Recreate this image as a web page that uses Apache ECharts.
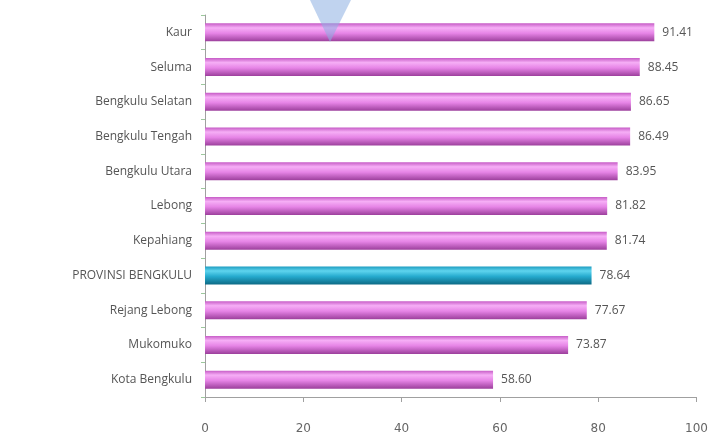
<!DOCTYPE html>
<html>
<head>
<meta charset="utf-8">
<script src="https://cdn.jsdelivr.net/npm/echarts@6/dist/echarts.min.js"></script>
<style>
html, body { margin: 0; padding: 0; background: #fff; }
#chart { width: 711px; height: 437px; }
</style>
</head>
<body>
<div id="chart"></div>
<script>
var regions = ['Kaur', 'Seluma', 'Bengkulu Selatan', 'Bengkulu Tengah', 'Bengkulu Utara',
    'Lebong', 'Kepahiang', 'PROVINSI BENGKULU', 'Rejang Lebong', 'Mukomuko', 'Kota Bengkulu'];
var values = [91.41, 88.45, 86.65, 86.49, 83.95, 81.82, 81.74, 78.64, 77.67, 73.87, 58.60];
var xTicks = [0, 20, 40, 60, 80, 100];

var pinkFill = new echarts.graphic.LinearGradient(0, 0, 0, 1, [
    { offset: 0, color: '#c65cc6' },
    { offset: 0.25, color: '#f6aef6' },
    { offset: 0.55, color: '#e684e6' },
    { offset: 1, color: '#9c3f9c' }
]);
var blueFill = new echarts.graphic.LinearGradient(0, 0, 0, 1, [
    { offset: 0, color: '#1d9cc0' },
    { offset: 0.25, color: '#5fd4ee' },
    { offset: 0.55, color: '#26abcf' },
    { offset: 1, color: '#0d6a85' }
]);

var chart = echarts.init(document.getElementById('chart'));
var option = {
    animation: false,
    grid: { left: 205, right: 11, top: 15, bottom: 40 },
    xAxis: {
        type: 'value',
        min: 0,
        max: 100,
        interval: 20,
        axisLine: { show: true, lineStyle: { color: '#a0a0a0' } },
        axisTick: { show: true, length: 5, lineStyle: { color: '#a0a0a0' } },
        splitLine: { show: false },
        axisLabel: {
            color: '#666',
            fontSize: 12,
            fontFamily: 'DejaVu Sans',
            margin: 26,
            formatter: function (v) { return xTicks.indexOf(v) >= 0 ? String(v) : ''; }
        }
    },
    yAxis: {
        type: 'category',
        inverse: true,
        data: regions,
        axisLine: { show: true, lineStyle: { color: '#a0a0a0' } },
        axisTick: { show: true, length: 4, lineStyle: { color: '#9cc89c' } },
        axisLabel: { color: '#555', fontSize: 12, fontFamily: 'Open Sans', margin: 13 }
    },
    series: [{
        type: 'bar',
        barWidth: 18,
        data: values.map(function (v, i) {
            return {
                value: v,
                itemStyle: { color: regions[i] === 'PROVINSI BENGKULU' ? blueFill : pinkFill }
            };
        }),
        label: {
            show: true,
            position: 'right',
            distance: 8,
            color: '#555',
            fontSize: 12,
            fontFamily: 'Open Sans',
            formatter: function (p) { return p.value.toFixed(2); }
        }
    }],
    graphic: [{
        type: 'polygon',
        shape: { points: [[310, 0], [351, 0], [330, 42]] },
        style: { fill: 'rgba(140,175,225,0.55)' },
        z: 100
    }]
};
chart.setOption(option);
</script>
</body>
</html>
